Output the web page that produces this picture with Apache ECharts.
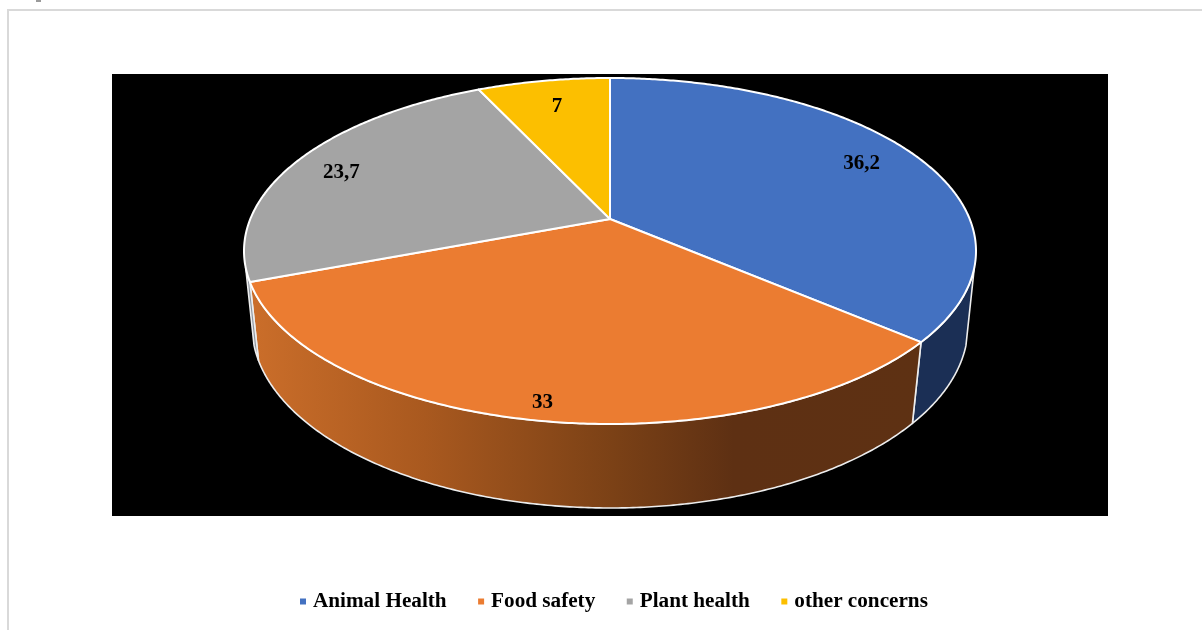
<!DOCTYPE html>
<html>
<head>
<meta charset="utf-8">
<style>html,body{margin:0;padding:0;background:#fff}#chart{width:1202px;height:630px}</style>
<script src="https://cdn.jsdelivr.net/npm/echarts@6/dist/echarts.min.js"></script>
</head>
<body>
<div id="chart"></div>
<script>
const categories = ['Animal Health', 'Food safety', 'Plant health', 'other concerns'];
const shares = [36.2, 33, 23.7, 7];
const shareLabels = ['36,2', '33', '23,7', '7'];
const topColors = ['#4371C1', '#EB7C31', '#A4A4A4', '#FCBF00'];
const labelRadii = [0.83, 0.92, 0.85, 0.80];
const labelNudges = [[-3, -1], [1, 2], [-1, 4], [2, 2]];

// Rim ellipses of the tilted disc; persp moves the disc centre away from the ellipse centre.
const topRim = { cx: 610, cy: 251, rx: 366, ry: 173, persp: -0.185 };
const baseRim = { cx: 610, cy: 326, rx: 358, ry: 182, persp: -0.174 };
// Angles (clockwise from 12 o'clock) where the wall meets the outline of the disc.
const wallFrom = 106;
const wallTo = 254;
const FONT = 'bold 21px "Liberation Serif", "Times New Roman", serif';

const total = shares.reduce((a, b) => a + b, 0);

function project(rim, deg, r) {
  const t = deg * Math.PI / 180;
  const x = r * Math.sin(t), y = -r * Math.cos(t);
  const k = rim.persp, d = 1 + k * y;
  return [rim.cx + rim.rx * x * Math.sqrt(1 - k * k) / d, rim.cy + rim.ry * (y + k) / d];
}
function arc(rim, a, b) {
  const pts = [], n = Math.max(2, Math.ceil(Math.abs(b - a) * 2));
  for (let i = 0; i <= n; i++) pts.push(project(rim, a + (b - a) * i / n, 1));
  return pts;
}
function wallFill(i) {
  if (i === 0) return '#1B2F55';
  if (i === 2) return '#8E959E';
  return {
    type: 'linear', x: 0, y: 0, x2: 1, y2: 0,
    colorStops: [
      { offset: 0, color: '#CB6E2A' },
      { offset: 0.26, color: '#A9591F' },
      { offset: 0.54, color: '#7B4116' },
      { offset: 0.72, color: '#5E3013' },
      { offset: 1, color: '#5E3113' }
    ]
  };
}

const series = categories.map((name, i) => {
  const before = shares.slice(0, i).reduce((a, b) => a + b, 0);
  const start = before / total * 360;
  const end = (before + shares[i]) / total * 360;
  return {
    type: 'custom',
    name,
    coordinateSystem: 'none',
    animation: false,
    silent: true,
    itemStyle: { color: topColors[i] },
    data: [shares[i]],
    renderItem() {
      const children = [];
      const a = Math.max(start, wallFrom), b = Math.min(end, wallTo);
      if (a < b) {
        children.push({
          type: 'polygon', z2: 1,
          shape: { points: arc(topRim, a, b).concat(arc(baseRim, b, a)) },
          style: { fill: wallFill(i), stroke: '#EDEDED', lineWidth: 1.6, lineJoin: 'round' }
        });
      }
      children.push({
        type: 'polygon', z2: 2,
        shape: { points: [project(topRim, 0, 0)].concat(arc(topRim, start, end)) },
        style: { fill: topColors[i], stroke: '#FFFFFF', lineWidth: 2, lineJoin: 'round' }
      });
      const pos = project(topRim, (start + end) / 2, labelRadii[i]);
      children.push({
        type: 'text', z2: 3,
        style: {
          x: pos[0] + labelNudges[i][0], y: pos[1] + labelNudges[i][1], text: shareLabels[i],
          font: FONT, fill: '#000', textAlign: 'center', textVerticalAlign: 'middle'
        }
      });
      return { type: 'group', children };
    }
  };
});

const chart = echarts.init(document.getElementById('chart'), null, { renderer: 'canvas' });
chart.setOption({
  animation: false,
  backgroundColor: '#fff',
  graphic: [
    { type: 'rect', z: -1, shape: { x: 112, y: 74, width: 996, height: 442 }, style: { fill: '#000' } },
    { type: 'polyline', z: -1, shape: { points: [[8, 630], [8, 10], [1202, 10]] }, style: { stroke: '#D9D9D9', lineWidth: 2, fill: null } },
    { type: 'rect', z: -1, shape: { x: 36, y: 0, width: 5, height: 2 }, style: { fill: '#9A9A9A' } }
  ],
  legend: {
    left: 300, top: 591, padding: 0,
    icon: 'rect', itemWidth: 6, itemHeight: 6, itemGap: 31.5,
    data: categories,
    selectedMode: false,
    textStyle: { fontFamily: '"Liberation Serif", "Times New Roman", serif', fontWeight: 'bold', fontSize: 21.2, color: '#000', padding: [0, 0, 0, 2] }
  },
  series
});
</script>
</body>
</html>
